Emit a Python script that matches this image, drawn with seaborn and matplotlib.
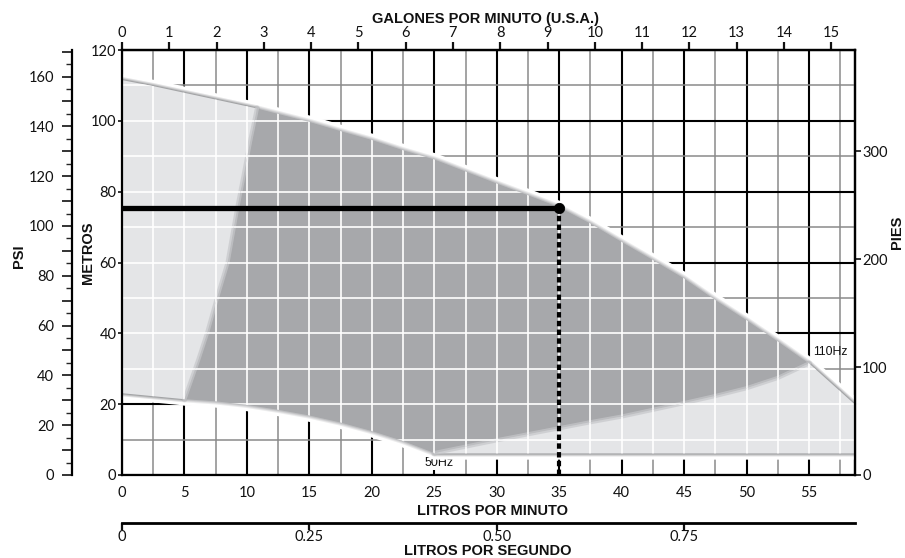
import numpy as np
import matplotlib
matplotlib.use("Agg")
import matplotlib.pyplot as plt
from matplotlib import font_manager
from matplotlib.patches import Polygon
from matplotlib.ticker import MultipleLocator
import seaborn as sns

# ---------------------------------------------------------------- data
# upper (maximum speed) pump curve: flow in l/min, head in m
upper_q = [0, 2.5, 5, 7.5, 10, 10.8, 15, 17.5, 20, 22.5, 25, 27.5, 30,
           32.5, 35, 37.5, 40, 42.5, 45, 47.5, 50, 52.5, 55]
upper_h = [111.5, 109.8, 107.9, 106.0, 104.1, 103.5, 99.7, 97.1, 94.6,
           91.7, 89.1, 85.7, 82.3, 79.0, 75.6, 71.0, 65.8, 60.7, 55.5,
           49.4, 43.7, 37.7, 31.5]

# lower limit of the working field (50 Hz side)
lower_left_q = [5, 7.5, 10, 12.5, 15, 17.5, 20, 22.5, 25]
lower_left_h = [21.4, 20.8, 19.8, 18.4, 16.8, 14.8, 12.4, 9.6, 6.2]

# lower limit of the working field (towards 110 Hz)
lower_right_q = [25, 27.5, 30, 32.5, 35, 37.5, 40, 42.5, 45, 47.5, 50, 52.5, 55]
lower_right_h = [6.2, 8.0, 9.8, 11.5, 13.2, 14.9, 16.5, 18.4, 20.3, 22.3,
                 24.5, 27.4, 31.5]

# boundary between the low-flow zone and the recommended zone
split_q = [5.0, 6.1, 6.8, 7.6, 8.45, 9.2, 9.7, 10.3, 10.8]
split_h = [21.4, 32.5, 40, 50, 60, 75, 84, 95, 103.5]

# corners of the outer zones
left_floor_h = 23.1
right_end_q, right_end_h = 58.7, 19.8
floor_h = 6.1

# duty point
duty_q = [35.0]
duty_h = [75.3]

# axis ranges and ticks
q_max, h_max = 58.7, 120
flow_ticks = list(range(0, 56, 5))
head_ticks = list(range(0, 121, 20))
gpm_ticks = list(range(0, 16))
psi_ticks = list(range(0, 171, 10))
feet_ticks = [0, 100, 200, 300]
lps_ticks = [0, 0.25, 0.50, 0.75]
lps_labels = ["0", "0.25", "0.50", "0.75"]

# unit conversions from l/min and m
LPM_PER_GPM = 3.785
PSI_PER_M = 1.4223
M_PER_FT = 0.3048

# ---------------------------------------------------------------- style
sns.set_theme(style="white")
names = {f.name for f in font_manager.fontManager.ttflist}
narrow = "Liberation Sans Narrow" if "Liberation Sans Narrow" in names else "Liberation Sans"
tick_font = "Lato" if "Lato" in names else "DejaVu Sans"
plt.rcParams["font.family"] = [tick_font, "DejaVu Sans"]
ink = "#111111"

fig = plt.figure(figsize=(9.05, 5.58), dpi=100)
W, H = 905, 558
ax = fig.add_axes([122 / W, 83 / H, 733.3 / W, 425 / H])
ax.set_xlim(0, q_max)
ax.set_ylim(0, h_max)
ax.set_axisbelow(True)

ax.set_xticks(flow_ticks)
ax.xaxis.set_minor_locator(MultipleLocator(2.5))
ax.set_yticks(head_ticks)
ax.yaxis.set_minor_locator(MultipleLocator(10))
ax.tick_params(axis="x", which="both", length=0, pad=8, labelsize=10.5, colors=ink)
ax.tick_params(axis="y", which="major", left=True, length=3, width=1.2, pad=1,
               labelsize=10.5, colors=ink)
ax.tick_params(axis="y", which="minor", length=0)
ax.grid(which="major", color="black", lw=1.5)
ax.grid(which="minor", color="#8a8a8a", lw=1.1)
for s in ax.spines.values():
    s.set_visible(True)
    s.set_color("black")
    s.set_linewidth(1.6)
    s.set_zorder(6)

# ---------------------------------------------------------------- zones
i0 = upper_q.index(10.8)
dark_xy = (list(zip(upper_q[i0:], upper_h[i0:]))
           + list(zip(lower_right_q[::-1], lower_right_h[::-1]))
           + list(zip(lower_left_q[::-1], lower_left_h[::-1]))
           + list(zip(split_q, split_h)))
light_left_xy = ([(0, left_floor_h)]
                 + list(zip(upper_q[:i0 + 1], upper_h[:i0 + 1]))
                 + list(zip(split_q[::-1], split_h[::-1])))
light_right_xy = (list(zip(lower_right_q, lower_right_h))
                  + [(right_end_q, right_end_h), (right_end_q, floor_h),
                     (lower_right_q[0], floor_h)])

light_col = "#e4e5e7"
dark_col = "#a7a8ab"

# outer (free) edges of each zone, where the soft margin is drawn
light_edges = [
    (upper_q[:i0 + 1], upper_h[:i0 + 1]),
    ([0, split_q[0]], [left_floor_h, split_h[0]]),
    ([lower_right_q[-1], right_end_q, right_end_q, lower_right_q[0]],
     [lower_right_h[-1], right_end_h, floor_h, floor_h]),
]
dark_edges = [
    (upper_q[i0:], upper_h[i0:]),
    (lower_left_q, lower_left_h),
]
line_kw = dict(solid_capstyle="round", solid_joinstyle="round")

# white margin around all zones
for xs, ys in light_edges + dark_edges:
    ax.plot(xs, ys, color="white", lw=9, zorder=1.0, **line_kw)
# blurred edges
for edges, shade in ((light_edges, "#7e7f82"), (dark_edges, dark_col)):
    for xs, ys in edges:
        for lw, a in ((4.5, 0.22), (3.0, 0.3), (1.6, 0.45)):
            ax.plot(xs, ys, color=shade, lw=lw, alpha=a, zorder=1.05, **line_kw)

p_ll = Polygon(light_left_xy, closed=True, fc=light_col, ec="none", zorder=1.1)
p_lr = Polygon(light_right_xy, closed=True, fc=light_col, ec="none", zorder=1.1)
p_dk = Polygon(dark_xy, closed=True, fc=dark_col, ec="none", zorder=1.2)
for p in (p_ll, p_lr, p_dk):
    ax.add_patch(p)

# soft seam where light and dark zones meet
for xs, ys in ((split_q, split_h), (lower_right_q, lower_right_h)):
    ax.plot(xs, ys, color="#c6c7ca", lw=3.0, alpha=0.7, zorder=1.25, **line_kw)

# white grid inside the shaded zones
vx = np.arange(2.5, q_max, 2.5)
hy = np.arange(10, h_max, 10)
for p in (p_ll, p_lr, p_dk):
    lv = ax.vlines(vx, 0, h_max, colors="white", lw=1.2, zorder=1.5)
    lv.set_clip_path(p)
    lh = ax.hlines(hy, 0, q_max, colors="white", lw=1.2, zorder=1.5)
    lh.set_clip_path(p)

# ---------------------------------------------------------------- duty point
ax.plot([0, duty_q[0]], [duty_h[0], duty_h[0]], color="black", lw=3.8,
        solid_capstyle="butt", zorder=4)
ax.plot([duty_q[0], duty_q[0]], [0, duty_h[0]], color="black", lw=3.0,
        linestyle=(0, (1.3, 0.8)), zorder=4)
sns.scatterplot(x=duty_q, y=duty_h, ax=ax, s=55, color="black",
                edgecolor="black", zorder=5, legend=False)

ax.text(25.4, 3.4, "50Hz", family=[narrow, "DejaVu Sans"], fontsize=9,
        ha="center", va="center", color=ink, zorder=0.8,
        bbox=dict(fc="white", ec="none", pad=1.0))
ax.text(55.3, 34.7, "110Hz", family=[narrow, "DejaVu Sans"], fontsize=8.8,
        ha="left", va="center", color=ink, zorder=4)

# ---------------------------------------------------------------- secondary scales
top = ax.secondary_xaxis("top", functions=(lambda q: q / LPM_PER_GPM,
                                           lambda g: g * LPM_PER_GPM))
top.set_xticks(gpm_ticks)
top.tick_params(axis="x", length=6, width=1.6, pad=1, labelsize=10.5, colors=ink)
top.spines["top"].set_linewidth(1.6)
top.spines["top"].set_color("black")

bot = ax.secondary_xaxis(-0.1129, functions=(lambda q: q / 60.0,
                                             lambda s: s * 60.0))
bot.set_xticks(lps_ticks, lps_labels)
bot.tick_params(axis="x", direction="out", length=5, width=1.6, pad=0,
                labelsize=10.5, colors=ink)
bot.spines["bottom"].set_linewidth(2.0)
bot.spines["bottom"].set_color("black")

psi = ax.secondary_yaxis(-0.0682, functions=(lambda m: m * PSI_PER_M,
                                             lambda p: p / PSI_PER_M))
psi.set_yticks(psi_ticks, [str(v) if v % 20 == 0 else "" for v in psi_ticks])
psi.yaxis.set_minor_locator(MultipleLocator(5))
psi.tick_params(axis="y", which="major", length=7, width=1.2, pad=6,
                labelsize=10.5, colors=ink)
psi.tick_params(axis="y", which="minor", length=4, width=1.0)
psi.spines["left"].set_linewidth(1.6)
psi.spines["left"].set_color("black")

ft = ax.secondary_yaxis("right", functions=(lambda m: m / M_PER_FT,
                                            lambda f: f * M_PER_FT))
ft.set_yticks(feet_ticks)
ft.tick_params(axis="y", length=4, width=1.2, pad=1, labelsize=10.5, colors=ink)
ft.spines["right"].set_linewidth(1.6)
ft.spines["right"].set_color("black")

# ---------------------------------------------------------------- titles
title_kw = dict(family=[narrow, "DejaVu Sans"], fontweight="bold",
                fontsize=10.5, color=ink, ha="center", va="center")
fig.text(485 / W, 1 - 19 / H, "GALONES POR MINUTO (U.S.A.)", **title_kw)
fig.text(492 / W, 1 - 511 / H, "LITROS POR MINUTO", **title_kw)
fig.text(488 / W, 1 - 551 / H, "LITROS POR SEGUNDO", **title_kw)
fig.text(19 / W, 1 - 256 / H, "PSI", rotation=90, **title_kw)
fig.text(87.5 / W, 1 - 253 / H, "METROS", rotation=90, **title_kw)
fig.text(897 / W, 1 - 232 / H, "PIES", rotation=90, **title_kw)

fig.savefig("out.png", dpi=100, facecolor="white")
